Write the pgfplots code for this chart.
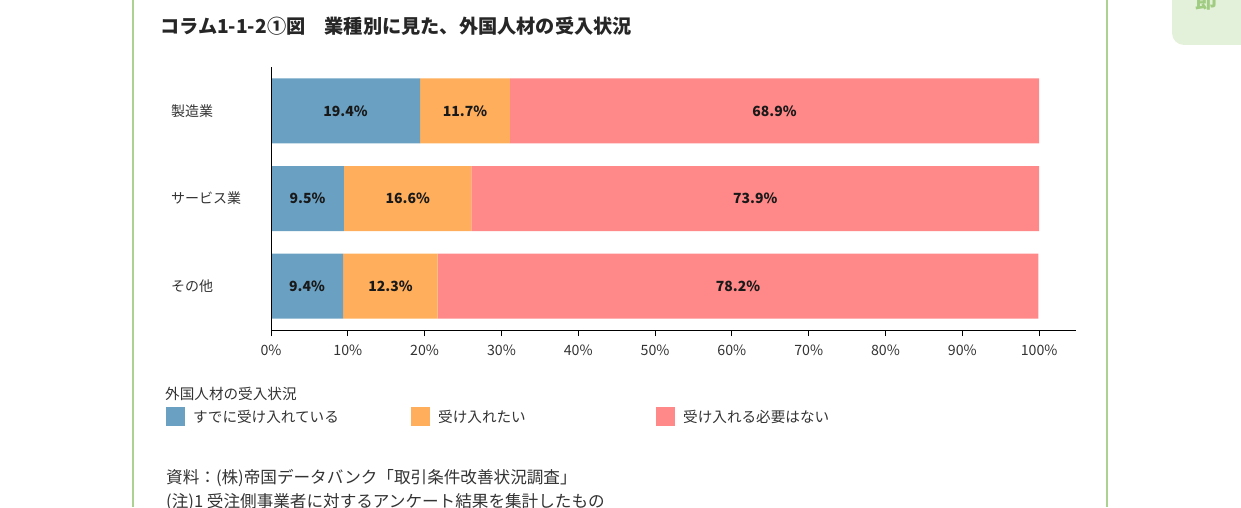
\documentclass[border=0pt]{standalone}
\usepackage{fontspec}
\usepackage{pgfplots}
\pgfplotsset{compat=1.18}
\setmainfont{Noto Sans CJK JP}

\definecolor{cBlue}{RGB}{106,161,195}
\definecolor{cOrange}{RGB}{255,175,92}
\definecolor{cRed}{RGB}{255,136,136}
\definecolor{lineGreen}{RGB}{172,210,145}
\definecolor{tabGreen}{RGB}{228,241,218}
\definecolor{tabText}{RGB}{160,204,130}
\definecolor{txt}{RGB}{51,51,51}

\newcommand{\fs}[1]{\fontsize{#1}{#1}\selectfont}
\tikzset{lab/.style={font=\bfseries\fs{14}, text=black!90}}
\pgfplotsset{frame/.style={
  at={(271pt,177pt)}, anchor=south west,
  scale only axis, width=805pt, height=263pt,
  xmin=0, xmax=104.8, ymin=-0.5, ymax=2.5, clip=false}}

\begin{document}
\begin{tikzpicture}
\useasboundingbox (0pt,0pt) rectangle (1241pt,507pt);

% frame lines and section tab
\draw[lineGreen, line width=2pt] (132.5pt,0pt) -- (132.5pt,507pt);
\draw[lineGreen, line width=2pt] (1107pt,0pt) -- (1107pt,507pt);
\begin{scope}
\clip (0pt,0pt) rectangle (1241pt,507pt);
\fill[tabGreen, rounded corners=12pt] (1172pt,462pt) rectangle (1270pt,540pt);
\node[anchor=base, text=tabText, font=\bfseries\fs{22}] at (1206pt,498pt) {節};
\end{scope}

% title
\node[anchor=west, inner sep=0pt, text=black!85, font=\bfseries\fs{19.2}] at (160pt,481pt)
  {コラム1-1-2①図　業種別に見た、外国人材の受入状況};

% bars
\begin{axis}[frame, hide axis, xbar stacked, bar width=65pt]
\addplot[fill=cBlue, draw=none] coordinates {(9.4,0) (9.5,1) (19.4,2)};
\addplot[fill=cOrange, draw=none] coordinates {(12.3,0) (16.6,1) (11.7,2)};
\addplot[fill=cRed, draw=none] coordinates {(78.2,0) (73.9,1) (68.9,2)};
\end{axis}

% axis lines, ticks and value labels on top
\begin{axis}[frame,
  axis x line*=bottom, axis y line*=left,
  axis line style={-, black, line width=1pt},
  xtick={0,10,...,100},
  xticklabels={0\%,10\%,20\%,30\%,40\%,50\%,60\%,70\%,80\%,90\%,100\%},
  tick align=outside, major tick length=6pt,
  x tick style={black, line width=1pt},
  ytick={0,1,2},
  yticklabels={その他,サービス業,製造業},
  y tick style={draw=none},
  xticklabel style={font=\fs{14.2}, text=txt, yshift=-5pt},
  yticklabel style={font=\fs{14}, text=txt, anchor=west, inner sep=0pt, xshift=-94pt},
]
\addplot[draw=none, mark=none, nodes near coords={\pgfplotspointmeta\%},
  point meta=explicit symbolic,
  every node near coord/.append style={lab, anchor=center}]
  table[x=x, y=y, meta=v] {
x     y v
9.7   2 19.4
25.25 2 11.7
65.55 2 68.9
4.75  1 9.5
17.8  1 16.6
63.05 1 73.9
4.7   0 9.4
15.55 0 12.3
60.8  0 78.2
};
\end{axis}

% legend
\node[anchor=west, inner sep=0pt, text=txt, font=\fs{14.6}] at (165pt,113pt) {外国人材の受入状況};
\fill[cBlue] (166pt,81pt) rectangle (185pt,100pt);
\node[anchor=west, inner sep=0pt, text=txt, font=\fs{14.6}] at (193pt,90pt) {すでに受け入れている};
\fill[cOrange] (411pt,81pt) rectangle (430pt,100pt);
\node[anchor=west, inner sep=0pt, text=txt, font=\fs{14.6}] at (438pt,90pt) {受け入れたい};
\fill[cRed] (656pt,81pt) rectangle (675pt,100pt);
\node[anchor=west, inner sep=0pt, text=txt, font=\fs{14.6}] at (683pt,90pt) {受け入れる必要はない};

% notes
\node[anchor=west, inner sep=0pt, text=txt, font=\fs{16.6}] at (166pt,29pt) {資料：(株)帝国データバンク「取引条件改善状況調査」};
\node[anchor=west, inner sep=0pt, text=txt, font=\fs{16.6}] at (166pt,5pt) {(注)1 受注側事業者に対するアンケート結果を集計したもの};
\end{tikzpicture}
\end{document}
